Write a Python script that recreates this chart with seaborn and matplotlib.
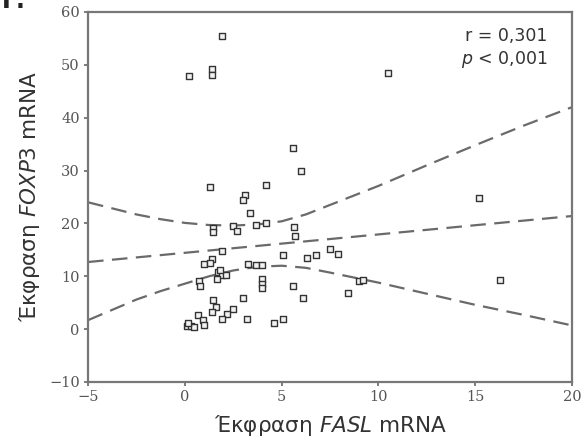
import numpy as np
import pandas as pd
import matplotlib.pyplot as plt
import seaborn as sns

# Points (FASL on x, FOXP3 on y)
fasl = [1.9, 0.2, 1.4, 1.4, 10.5, 5.6, 6.0, 1.3, 3.1, 3.0,
        4.2, 3.35, 1.45, 1.45, 2.5, 2.7, 3.7, 4.2, 5.65, 5.7,
        1.9, 1.4, 1.0, 1.3, 5.05, 3.25, 3.65, 4.0, 1.7, 1.9,
        2.15, 1.65, 1.8, 0.75, 0.8, 4.0, 4.0, 4.0, 5.6, 3.0,
        1.45, 1.6, 1.4, 2.5, 2.2, 1.9, 3.2, 0.7, 0.95, 1.0,
        0.1, 0.3, 0.45, 0.15, 4.6, 5.05, 6.3, 6.8, 7.5, 7.9,
        9.0, 9.2, 8.45, 6.1, 15.2, 16.3]
foxp3 = [55.5, 47.9, 49.2, 48.1, 48.5, 34.3, 29.9, 26.9, 25.4, 24.4,
         27.3, 22.0, 19.1, 18.4, 19.5, 18.5, 19.7, 20.1, 19.4, 17.7,
         14.8, 13.3, 12.3, 12.6, 14.0, 12.3, 12.1, 12.1, 10.8, 10.2,
         10.2, 9.5, 11.2, 9.1, 8.1, 9.5, 8.5, 7.8, 8.2, 5.9,
         5.5, 4.2, 3.2, 3.8, 2.8, 1.9, 1.9, 2.7, 1.7, 0.8,
         0.6, 0.6, 0.4, 1.1, 1.1, 1.9, 13.4, 14.0, 15.1, 14.2,
         9.1, 9.3, 6.8, 5.9, 24.8, 9.3]

# Fit line and 95% band, read at the plotted x positions
fit_x = [-5, 20]
fit_y = [12.7, 21.4]
band_x = [-5, -2.5, -1.25, 0, 1.25, 2.5, 3.75, 5, 6.25, 7.5, 10, 12.5, 15, 17.5, 20]
band_upper = [24.0, 21.7, 20.8, 20.1, 19.7, 19.6, 19.8, 20.4, 21.7, 23.5, 27.1, 31.0, 34.8, 38.5, 42.0]
band_lower = [1.7, 5.6, 7.2, 8.6, 10.0, 11.1, 11.8, 12.0, 11.6, 10.7, 8.8, 6.7, 4.6, 2.7, 0.7]

x_ticks = [-5, 0, 5, 10, 15, 20]
y_ticks = [-10, 0, 10, 20, 30, 40, 50, 60]

pts = pd.DataFrame({'FASL': fasl, 'FOXP3': foxp3})
bands = pd.DataFrame({'x': band_x, 'upper': band_upper, 'lower': band_lower})
fit = pd.DataFrame({'x': fit_x, 'y': fit_y})

sns.set_theme(style="white")
plt.rcParams['font.family'] = ['DejaVu Sans']

fig = plt.figure(figsize=(5.87, 4.46), dpi=100)
ax = fig.add_axes([0.150, 0.1435, 0.8245, 0.8296])

dash_kw = dict(color='#6a6a6a', linewidth=1.6, dashes=(7, 3.8), dash_capstyle='butt')
ax.plot(fit['x'], fit['y'], **dash_kw)
ax.plot(bands['x'], bands['upper'], **dash_kw)
ax.plot(bands['x'], bands['lower'], **dash_kw)

sns.scatterplot(data=pts, x='FASL', y='FOXP3', marker='s', s=20,
                facecolor='#f2f2f2', edgecolor='#333333', linewidth=1.0,
                ax=ax, zorder=3)

ax.set_xlim(-5, 20)
ax.set_ylim(-10, 60)
ax.set_xticks(x_ticks)
ax.set_yticks(y_ticks)
ax.set_xticklabels([str(t).replace('-', '\u2212') for t in x_ticks],
                   family='DejaVu Serif', fontsize=10.5, color='#555555')
ax.set_yticklabels([str(t).replace('-', '\u2212') for t in y_ticks],
                   family='DejaVu Serif', fontsize=10.5, color='#555555')
ax.tick_params(direction='out', length=3, width=1.2, color='#666666',
               left=True, bottom=True, pad=3)

for side in ['left', 'bottom', 'top', 'right']:
    ax.spines[side].set_visible(True)
    ax.spines[side].set_color('#777777')
    ax.spines[side].set_linewidth(1.6)

ax.set_xlabel('Έκφραση $\\it{FASL}$ mRNA', fontsize=15.5, color='#333333', labelpad=6)
ax.set_ylabel('Έκφραση $\\it{FOXP3}$ mRNA', fontsize=15.5, color='#333333', labelpad=5)

ax.text(0.95, 0.96, 'r = 0,301', transform=ax.transAxes, ha='right', va='top',
        fontsize=12.5, color='#333333')
ax.text(0.95, 0.9, '$\\it{p}$ < 0,001', transform=ax.transAxes, ha='right', va='top',
        fontsize=12.5, color='#333333')

fig.text(0.003, 0.998, 'Γ.', fontsize=17, fontweight='bold', va='center', ha='left', color='#222222')

fig.savefig('out.png', dpi=100, facecolor='white')
